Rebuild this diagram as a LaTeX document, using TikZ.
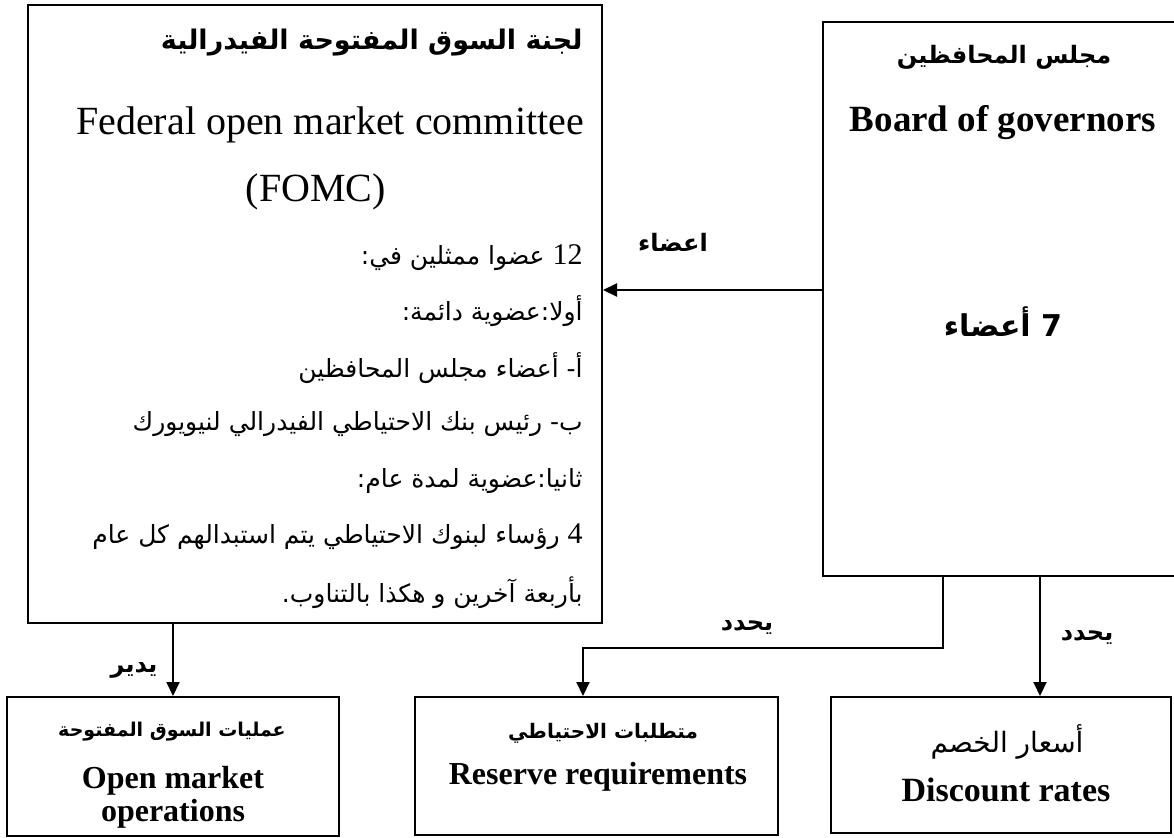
\documentclass[tikz,border=0pt]{standalone}
\usepackage{fontspec}
\setmainfont{Liberation Serif}
\newfontfamily\arabicfont[Script=Arabic]{DejaVu Sans}
\TeXXeTstate=1
\usetikzlibrary{arrows.meta,positioning}
\newcommand{\rtl}[1]{{\arabicfont\beginR #1\endR}}
\newcommand{\num}[1]{\beginL{\rmfamily\fontsize{15}{15}\selectfont #1}\endL}

\begin{document}
\begin{tikzpicture}[
    x=0.5pt, y=-0.5pt,
    panel/.style={
        rectangle,
        draw=black,
        line width=1pt,
        inner sep=0pt
    },
    bodyline/.style={
        anchor=east,
        inner sep=0pt,
        font=\fontsize{12.5}{15}\selectfont
    },
    eng/.style={
        inner sep=0pt,
        font=\fontsize{20}{22}\selectfont
    },
    engbold/.style={
        inner sep=0pt,
        align=center,
        font=\fontsize{16}{16.5}\selectfont\bfseries
    },
    verb/.style={
        inner sep=0pt,
        font=\fontsize{12}{14}\selectfont\bfseries
    },
    arrow/.style={-{Triangle[length=7pt,width=6.5pt]}, line width=1pt}
]
\useasboundingbox (0,0) rectangle (1174,837);

% boxes
\node[panel, minimum width=287pt, minimum height=309pt] (fomc) at (315,314) {};
\node[panel, minimum width=180pt, minimum height=277pt] (gov) at (1003,299) {};
\node[panel, minimum width=166pt, minimum height=69.5pt] (oper) at (173,766.5) {};
\node[panel, minimum width=181.5pt, minimum height=69pt] (reserve) at (596.5,766) {};
\node[panel, minimum width=170pt, minimum height=68pt] (disc) at (1001,765) {};

% FOMC
\node[bodyline, font=\fontsize{13.5}{15}\selectfont\bfseries] (fomcar) at (583,43) {\rtl{لجنة السوق المفتوحة الفيدرالية}};
\node[eng] (fomcen) at (330,125) {Federal open market committee};
\node[eng] (fomcab) at (316,192) {(FOMC)};
\node[bodyline] (l1) at (583,258) {\rtl{\num{12} عضوا ممثلين في:}};
\node[bodyline] (l2) at (583,311) {\rtl{أولا:عضوية دائمة:}};
\node[bodyline] (l3) at (583,368) {\rtl{أ- أعضاء مجلس المحافظين}};
\node[bodyline] (l4) at (583,424) {\rtl{ب- رئيس بنك الاحتياطي الفيدرالي لنيويورك}};
\node[bodyline] (l5) at (583,481) {\rtl{ثانيا:عضوية لمدة عام:}};
\node[bodyline] (l6) at (583,537) {\rtl{\num{4} رؤساء لبنوك الاحتياطي يتم استبدالهم كل عام}};
\node[bodyline] (l7) at (583,593) {\rtl{بأربعة آخرين و هكذا بالتناوب.}};

% board of governors
\node[verb] (govar) at (1004,57) {\rtl{مجلس المحافظين}};
\node[eng, font=\fontsize{18.5}{20}\selectfont\bfseries] (goven) at (1003,123) {Board of governors};
\node[verb, font=\fontsize{15}{17}\selectfont\bfseries] (govnum) at (1003,322) {\rtl{7 أعضاء}};

% tools
\node[verb, font=\fontsize{9.5}{12}\selectfont\bfseries] (operar) at (172,732) {\rtl{عمليات السوق المفتوحة}};
\node[engbold] (operen) at (173,797) {Open market\\operations};
\node[verb, font=\fontsize{10}{12}\selectfont\bfseries] (reservear) at (603,733) {\rtl{متطلبات الاحتياطي}};
\node[engbold] (reserveen) at (598,777) {Reserve requirements};
\node[verb, font=\fontsize{14}{16}\selectfont] (discar) at (1007,742) {\rtl{أسعار الخصم}};
\node[engbold, font=\fontsize{17}{18}\selectfont\bfseries] (discen) at (1006,790) {Discount rates};

% connectors
\coordinate (split) at (943,648);
\draw[arrow] ([yshift=4.5pt]gov.west) -- ([yshift=4.5pt]gov.west -| fomc.east);
\draw[arrow] (oper.north |- fomc.south) -- (oper.north);
\draw[arrow] (gov.south -| split) -- (split) -| ([xshift=-6.75pt]reserve.north);
\draw[arrow] ([xshift=19.5pt]disc.north |- gov.south) -- ([xshift=19.5pt]disc.north);

% labels
\node[verb] (members) at (673,242) {\rtl{اعضاء}};
\node[verb] (manages) at (134,670) {\rtl{يدير}};
\node[verb] (sets1) at (747,627) {\rtl{يحدد}};
\node[verb] (sets2) at (1087,637) {\rtl{يحدد}};

\end{tikzpicture}
\end{document}
